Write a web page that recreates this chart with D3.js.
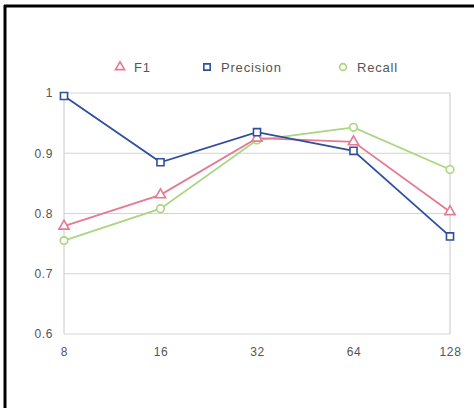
<!DOCTYPE html>
<html><head><meta charset="utf-8">
<script src="https://cdn.jsdelivr.net/npm/d3@7"></script>
<style>body{margin:0;background:#fff}svg{display:block;font-family:"Liberation Sans",Arial,sans-serif}</style>
</head><body><svg id="c" width="474" height="408"></svg>
<script>
const categories = ["8","16","32","64","128"];
const f1 = [0.779, 0.831, 0.925, 0.919, 0.803];
const precision = [0.995, 0.885, 0.935, 0.904, 0.762];
const recall = [0.755, 0.808, 0.922, 0.943, 0.873];
const yTicks = [0.6, 0.7, 0.8, 0.9, 1];
const seriesNames = ["F1","Precision","Recall"];
const seriesColors = ["#e57a92","#2f4f9e","#a9d67e"];
const seriesShapes = ["triangle","square","circle"];

const svg = d3.select("#c");
svg.append("rect").attr("x",0).attr("y",0).attr("width",474).attr("height",408).attr("fill","#fff");
// frame (top and left)
svg.append("line").attr("x1",4).attr("x2",474).attr("y1",6).attr("y2",6).attr("stroke","#000").attr("stroke-width",3);
svg.append("line").attr("x1",5).attr("x2",5).attr("y1",5).attr("y2",408).attr("stroke","#000").attr("stroke-width",3);

const x = d3.scalePoint().domain(categories).range([64,450]);
const y = d3.scaleLinear().domain([0.6,1]).range([334,93]);

// gridlines
svg.append("g").selectAll("line").data(yTicks).join("line")
  .attr("x1",64).attr("x2",450).attr("y1",d=>y(d)).attr("y2",d=>y(d))
  .attr("stroke","#d4d4d4").attr("stroke-width",1);
svg.append("line").attr("x1",64).attr("x2",64).attr("y1",93).attr("y2",334).attr("stroke","#c8c8c8");
svg.append("line").attr("x1",450).attr("x2",450).attr("y1",93).attr("y2",334).attr("stroke","#c8c8c8");

// axes labels
const yAxis = d3.axisLeft(y).tickValues(yTicks).tickFormat(d=>d===1?"1":d3.format(".1f")(d)).tickSize(0).tickPadding(11);
const gy = svg.append("g").attr("transform","translate(64,0)").call(yAxis);
gy.select(".domain").remove();
gy.selectAll("text").attr("fill","#555").attr("font-size",12).attr("letter-spacing",0.6).attr("font-family","Liberation Sans, Arial, sans-serif");
const xAxis = d3.axisBottom(x).tickSize(0).tickPadding(13);
const gx = svg.append("g").attr("transform","translate(0,334)").call(xAxis);
gx.select(".domain").remove();
gx.selectAll("text").attr("fill","#555").attr("font-size",12).attr("letter-spacing",0.6).attr("font-family","Liberation Sans, Arial, sans-serif");

const data = [f1, precision, recall];
const symbolMap = {triangle:d3.symbolTriangle, square:d3.symbolSquare, circle:d3.symbolCircle};
const sizes = {triangle:45, square:50, circle:45};
const line = d3.line().x((d,i)=>x(categories[i])).y(d=>y(d));
// draw order: recall, f1, precision on top
[2,0,1].forEach(k=>{
  svg.append("path").datum(data[k]).attr("d",line).attr("fill","none")
    .attr("stroke",seriesColors[k]).attr("stroke-width",1.8);
});
[2,0,1].forEach(k=>{
  svg.append("g").selectAll("path").data(data[k]).join("path")
    .attr("transform",(d,i)=>`translate(${x(categories[i])},${y(d)})`)
    .attr("d",d3.symbol().type(symbolMap[seriesShapes[k]]).size(sizes[seriesShapes[k]]))
    .attr("fill","#fff").attr("stroke",seriesColors[k]).attr("stroke-width",1.6);
});

// legend
const legX = [120,207,343];
seriesNames.forEach((n,k)=>{
  const shape = seriesShapes[k];
  svg.append("path").attr("transform",`translate(${legX[k]},67)`)
    .attr("d",d3.symbol().type(symbolMap[shape]).size(sizes[shape]*0.8))
    .attr("fill","#fff").attr("stroke",seriesColors[k]).attr("stroke-width",1.6);
  svg.append("text").attr("x",legX[k]+14).attr("y",71.5).attr("font-size",13)
    .attr("letter-spacing",0.8).attr("fill","#555").text(n);
});
</script></body></html>
